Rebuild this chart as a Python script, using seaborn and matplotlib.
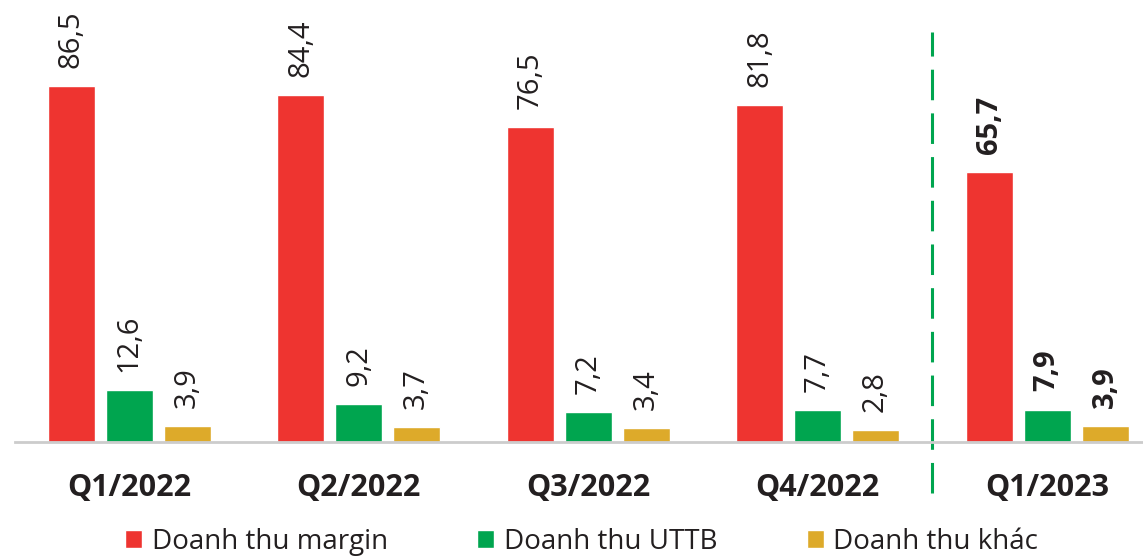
import matplotlib
matplotlib.use("Agg")
import matplotlib.pyplot as plt
import seaborn as sns
import pandas as pd

quarters = ["Q1/2022", "Q2/2022", "Q3/2022", "Q4/2022", "Q1/2023"]
series_names = ["Doanh thu margin", "Doanh thu UTTB", "Doanh thu khác"]
margin = [86.5, 84.4, 76.5, 81.8, 65.7]
uttb = [12.6, 9.2, 7.2, 7.7, 7.9]
khac = [3.9, 3.7, 3.4, 2.8, 3.9]
colors = ["#EE3430", "#00A54F", "#DDAA2A"]

rows = []
for name, vals in zip(series_names, [margin, uttb, khac]):
    for q, v in zip(quarters, vals):
        rows.append({"quarter": q, "series": name, "value": v})
df = pd.DataFrame(rows)

sns.set_theme(style="white")
plt.rcParams["font.family"] = ["Open Sans", "DejaVu Sans"]

fig = plt.figure(figsize=(11.43, 5.56), dpi=100)
ax = fig.add_axes([15 / 1143, 0.205, 1 - 15 / 1143, 0.795])

sns.barplot(data=df, x="quarter", y="value", hue="series", palette=colors,
            order=quarters, hue_order=series_names, width=0.758, gap=0.19,
            saturation=1, ax=ax, legend=True)

ax.set_xlim(-0.497, 4.418)
ax.set_ylim(0, 107.4)

for cont in ax.containers:
    labels = []
    for bar in cont:
        labels.append(f"{bar.get_height():.1f}".replace(".", ","))
    texts = ax.bar_label(cont, labels=labels, rotation=90, padding=13,
                         fontsize=21, color="#231F20")
    texts[-1].set_fontweight("bold")

for s in ["left", "right", "top"]:
    ax.spines[s].set_visible(False)
ax.spines["bottom"].set_color("#CCCCCC")
ax.spines["bottom"].set_linewidth(2)
ax.set_yticks([])
ax.set_xlabel("")
ax.set_ylabel("")
ax.tick_params(axis="x", length=0, pad=22)
for lab in ax.get_xticklabels():
    lab.set_fontweight("bold")
    lab.set_fontsize(22)
    lab.set_color("#231F20")

ax.plot([3.5, 3.5], [-12.4, 99.6], color="#00A54F", lw=2.2,
        dashes=(10, 4.3), clip_on=False)

handles, lbls = ax.get_legend_handles_labels()
ax.legend_.remove()
fig.legend(handles, lbls, loc="center", bbox_to_anchor=(0.509, 0.026),
           ncol=3, frameon=False, fontsize=20, handlelength=0.62,
           handleheight=0.62, handletextpad=0.35, columnspacing=3.2,
           labelcolor="#231F20")

fig.savefig("out.png", dpi=100)
